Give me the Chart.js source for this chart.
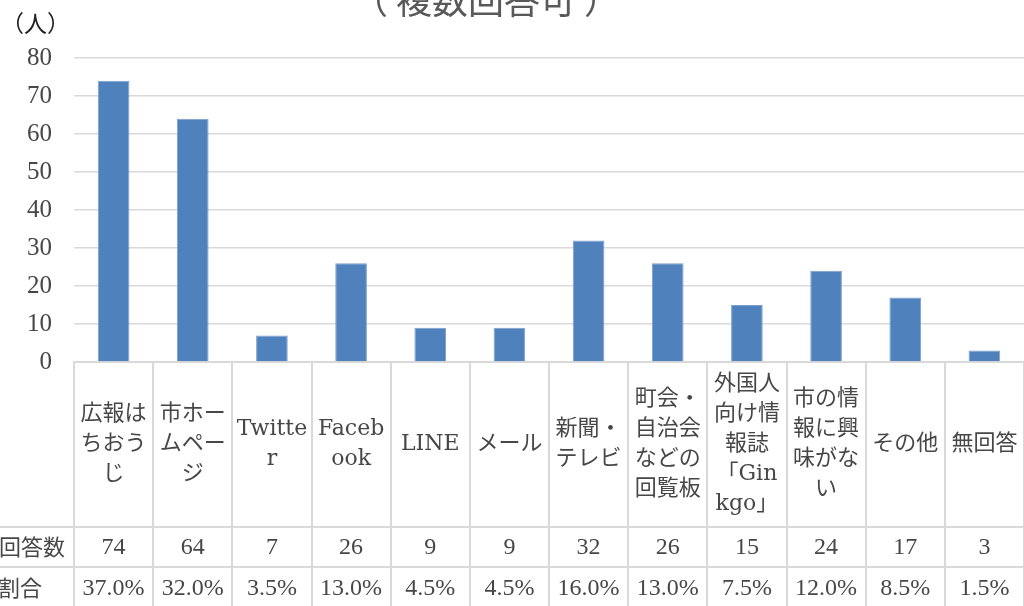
<!DOCTYPE html>
<html>
<head>
<meta charset="utf-8">
<script src="https://cdn.jsdelivr.net/npm/chart.js@4"></script>
<style>
  html, body { margin: 0; padding: 0; background: #fff; }
  #wrap { width: 1024px; height: 606px; position: relative; overflow: hidden; }
</style>
</head>
<body>
<div id="wrap"><canvas id="chart" width="1024" height="606"></canvas></div>
<script>
const CATEGORIES = [
  ['広報は', 'ちおう', 'じ'],
  ['市ホー', 'ムペー', 'ジ'],
  ['Twitte', 'r'],
  ['Faceb', 'ook'],
  ['LINE'],
  ['メール'],
  ['新聞・', 'テレビ'],
  ['町会・', '自治会', 'などの', '回覧板'],
  ['外国人', '向け情', '報誌', '「Gin', 'kgo」'],
  ['市の情', '報に興', '味がな', 'い'],
  ['その他'],
  ['無回答'],
];
const COUNTS = [74, 64, 7, 26, 9, 9, 32, 26, 15, 24, 17, 3];
const SHARES = ['37.0%', '32.0%', '3.5%', '13.0%', '4.5%', '4.5%', '16.0%', '13.0%', '7.5%', '12.0%', '8.5%', '1.5%'];
const ROW_HEADERS = ['回答数', '割合'];
const TITLE = '（ 複数回答可 ）';
const Y_UNIT = '（人）';

const GRAY = '#595959';
const TEXT = '#474747';
const LINE = '#d9d9d9';
const BAR = '#4f81bd';
const SERIF = '"Liberation Serif", "Noto Sans CJK JP", serif';
const LABEL_FONT = '"DejaVu Serif", "Noto Sans CJK JP", serif';
const JP = '"Noto Sans CJK JP", sans-serif';

const TABLE_BOTTOM = 609;
const ROW1_TOP = 527;
const ROW2_TOP = 567;

const tablePlugin = {
  id: 'dataTable',
  afterDraw(chart) {
    const { ctx, chartArea, scales } = chart;
    const x = scales.x;
    const n = CATEGORIES.length;
    const colW = x.width / n;
    const top = chartArea.bottom;
    ctx.save();

    // table lines
    ctx.strokeStyle = LINE;
    ctx.lineWidth = 2;
    ctx.beginPath();
    for (let i = 0; i <= n; i++) {
      const bx = Math.round(x.left + i * colW);
      ctx.moveTo(bx, top);
      ctx.lineTo(bx, TABLE_BOTTOM);
    }
    ctx.moveTo(0, ROW1_TOP);
    ctx.lineTo(chart.width, ROW1_TOP);
    ctx.moveTo(0, ROW2_TOP);
    ctx.lineTo(chart.width, ROW2_TOP);
    ctx.stroke();

    // category labels
    ctx.fillStyle = TEXT;
    ctx.textAlign = 'center';
    ctx.textBaseline = 'middle';
    ctx.font = '22px ' + LABEL_FONT;
    const cellMid = (top + ROW1_TOP) / 2;
    const lh = 30;
    CATEGORIES.forEach((lines, i) => {
      const cx = x.getPixelForValue(i);
      const y0 = cellMid - (lines.length - 1) * lh / 2;
      lines.forEach((t, k) => ctx.fillText(t, cx, y0 + k * lh));
    });

    // values
    const r1 = (ROW1_TOP + ROW2_TOP) / 2 + 1;
    const r2 = (ROW2_TOP + TABLE_BOTTOM) / 2 + 1;
    ctx.font = '24px ' + SERIF;
    COUNTS.forEach((v, i) => {
      const cx = x.getPixelForValue(i);
      ctx.fillText(String(v), cx, r1);
      ctx.fillText(SHARES[i], cx, r2);
    });

    // row headers
    ctx.textAlign = 'left';
    ctx.font = '22px ' + JP;
    ctx.fillText(ROW_HEADERS[0], -1, r1 - 1);
    ctx.fillText(ROW_HEADERS[1], -2, r2 - 1);

    // title and unit
    ctx.fillStyle = GRAY;
    ctx.textAlign = 'center';
    ctx.textBaseline = 'alphabetic';
    ctx.font = '36px ' + JP;
    ctx.fillText(TITLE, 486, 14);
    ctx.textAlign = 'left';
    ctx.textBaseline = 'middle';
    ctx.fillStyle = '#222';
    ctx.font = '23px ' + JP;
    ctx.fillText(Y_UNIT, 1, 23);
    ctx.restore();
  },
};

new Chart(document.getElementById('chart'), {
  type: 'bar',
  data: {
    labels: CATEGORIES.map((c) => c.join('')),
    datasets: [
      {
        data: COUNTS,
        backgroundColor: BAR,
        borderColor: '#7d9fcb',
        borderWidth: 1,
        barPercentage: 0.4,
        categoryPercentage: 1.0,
      },
    ],
  },
  options: {
    responsive: false,
    animation: false,
    layout: { padding: { top: 58, left: 0, right: 0, bottom: 0 } },
    plugins: {
      legend: { display: false },
      tooltip: { enabled: false },
    },
    scales: {
      x: {
        ticks: { display: false },
        grid: { display: false, drawTicks: false },
        border: { display: true, color: LINE, width: 2 },
        afterFit: (scale) => { scale.height = 606 - 362; },
      },
      y: {
        min: 0,
        max: 80,
        ticks: {
          stepSize: 10,
          color: TEXT,
          padding: 22,
          font: { family: SERIF, size: 25 },
        },
        grid: { color: LINE, lineWidth: 1.5, drawTicks: false },
        border: { display: false },
        afterFit: (scale) => { scale.width = 74; },
      },
    },
  },
  plugins: [tablePlugin],
});
</script>
</body>
</html>
